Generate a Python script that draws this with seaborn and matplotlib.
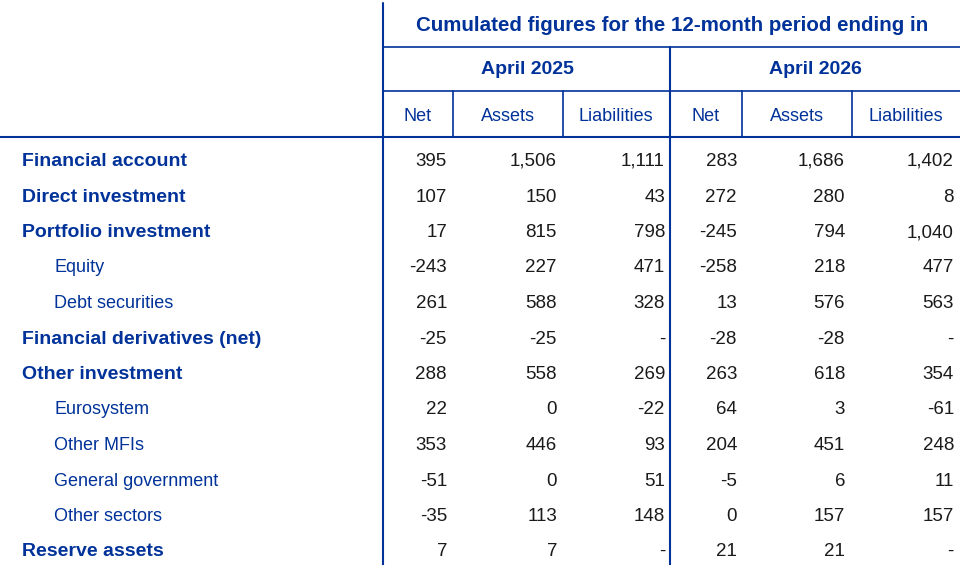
import seaborn as sns
import matplotlib.pyplot as plt

# Table contents
row_labels = ["Financial account", "Direct investment", "Portfolio investment", "Equity",
              "Debt securities", "Financial derivatives (net)", "Other investment", "Eurosystem",
              "Other MFIs", "General government", "Other sectors", "Reserve assets"]
row_bold = [True, True, True, False, False, True, True, False, False, False, False, True]
net_2025 = ["395", "107", "17", "-243", "261", "-25", "288", "22", "353", "-51", "-35", "7"]
assets_2025 = ["1,506", "150", "815", "227", "588", "-25", "558", "0", "446", "0", "113", "7"]
liab_2025 = ["1,111", "43", "798", "471", "328", "-", "269", "-22", "93", "51", "148", "-"]
net_2026 = ["283", "272", "-245", "-258", "13", "-28", "263", "64", "204", "-5", "0", "21"]
assets_2026 = ["1,686", "280", "794", "218", "576", "-28", "618", "3", "451", "6", "157", "21"]
liab_2026 = ["1,402", "8", "1,040", "477", "563", "-", "354", "-61", "248", "11", "157", "-"]
title = "Cumulated figures for the 12-month period ending in"
periods = ["April 2025", "April 2026"]
sub_headers = ["Net", "Assets", "Liabilities"]

sns.set_style("white")
plt.rcParams['font.family'] = ['Liberation Sans', 'DejaVu Sans']

blue = "#003299"
ink = "#1a1a1a"

fig = plt.figure(figsize=(9.6, 5.65), dpi=100)
ax = fig.add_axes([0, 0, 1, 1])
ax.set_xlim(0, 960)
ax.set_ylim(565, 0)
ax.axis("off")

# grid lines
ax.plot([383, 383], [3, 565], color=blue, lw=1.5)
ax.plot([670, 670], [47, 565], color=blue, lw=1.5)
ax.plot([383, 960], [47, 47], color=blue, lw=1.2)
ax.plot([383, 960], [91, 91], color=blue, lw=1.2)
ax.plot([0, 960], [137, 137], color=blue, lw=1.5)
for x in [453, 563, 742, 852]:
    ax.plot([x, x], [91, 137], color=blue, lw=1.2)

# headers
ax.text(672, 31, title, ha="center", va="baseline", color=blue, fontsize=14.8, fontweight="bold")
for cx, p in zip([527, 815], periods):
    ax.text(cx, 74, p, ha="center", va="baseline", color=blue, fontsize=14, fontweight="bold")
sub_x = [418, 508, 616, 706, 797, 906]
for i, cx in enumerate(sub_x):
    ax.text(cx, 121, sub_headers[i % 3], ha="center", va="baseline", color=blue, fontsize=13)

# body
columns = [net_2025, assets_2025, liab_2025, net_2026, assets_2026, liab_2026]
right_x = [447, 557, 665, 737, 845, 954]
y0, dy = 166, 35.5
for r, label in enumerate(row_labels):
    y = round(y0 + r * dy)
    if row_bold[r]:
        ax.text(22, y, label, ha="left", va="baseline", color=blue, fontsize=14, fontweight="bold")
    else:
        ax.text(54, y, label, ha="left", va="baseline", color=blue, fontsize=13)
    for col, rx in zip(columns, right_x):
        ax.text(rx, y, col[r], ha="right", va="baseline", color=ink, fontsize=13.5)

fig.savefig("out.png", dpi=100)
